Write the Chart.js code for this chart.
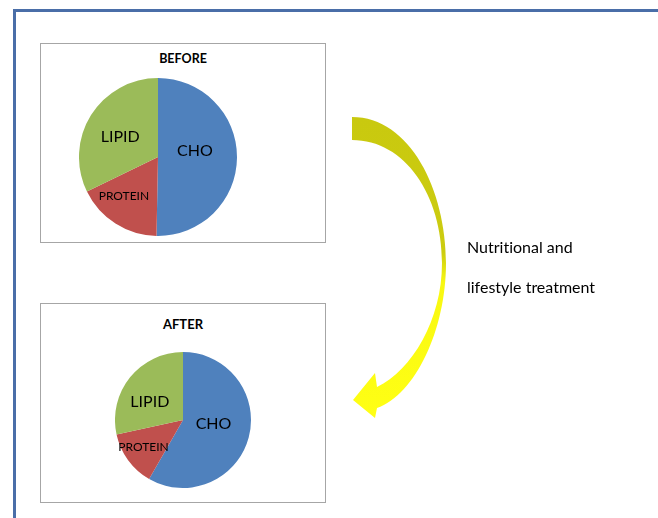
<!DOCTYPE html>
<html>
<head>
<meta charset="utf-8">
<script src="https://cdn.jsdelivr.net/npm/chart.js@4.4.1/dist/chart.umd.min.js"></script>
<style>
  html, body { margin: 0; padding: 0; background: #fff; }
  body { width: 658px; height: 518px; position: relative; overflow: hidden; font-family: Lato, "Open Sans", sans-serif; font-variant-ligatures: none; }
  .frame { position: absolute; left: 13px; top: 9px; width: 700px; height: 560px; border-left: 3px solid #4a6ea8; border-top: 3px solid #4a6ea8; }
  .box { position: absolute; left: 40px; width: 284px; height: 198px; border: 1px solid #a6a6a6; }
  .title { position: absolute; left: 0; width: 100%; text-align: center; font-weight: bold; font-size: 12.5px; color: #000; }
  .pie { position: absolute; }
  #arrow { position: absolute; left: 0; top: 0; }
  .note { position: absolute; left: 467px; font-size: 16px; color: #000; white-space: nowrap; }
</style>
</head>
<body>
<div class="frame"></div>
<div class="box" style="top:43px"><div class="title" style="top:7px">BEFORE</div></div>
<div class="box" style="top:303px"><div class="title" style="top:12px;font-size:13px">AFTER</div></div>
<canvas id="before" class="pie" width="158" height="158" style="left:79px;top:78px"></canvas>
<canvas id="after" class="pie" width="136" height="136" style="left:115px;top:352px"></canvas>
<canvas id="arrow" width="658" height="518"></canvas>
<div class="note" style="top:237px">Nutritional and</div>
<div class="note" style="top:277px">lifestyle treatment</div>
<script>
const categories = ['CHO', 'PROTEIN', 'LIPID'];
const beforeValues = [50.3, 17.5, 32.2];
const afterValues = [58.3, 13.3, 28.4];
const sliceColors = ['#4f81bd', '#c0504d', '#9bbb59'];

// label inside each slice, at a fraction of the radius along the mid angle, nudged a little
const sliceLabels = {
  id: 'sliceLabels',
  afterDatasetsDraw(chart, args, opts) {
    const ctx = chart.ctx;
    const arcs = chart.getDatasetMeta(0).data;
    ctx.save();
    ctx.fillStyle = '#000';
    ctx.textAlign = 'center';
    ctx.textBaseline = 'middle';
    arcs.forEach((arc, i) => {
      const mid = (arc.startAngle + arc.endAngle) / 2;
      const r = arc.outerRadius * opts.radius[i];
      ctx.font = opts.size[i] + 'px Lato, "Open Sans", sans-serif';
      ctx.fillText(chart.data.labels[i],
        arc.x + Math.cos(mid) * r + opts.nudge[i][0],
        arc.y + Math.sin(mid) * r + opts.nudge[i][1]);
    });
    ctx.restore();
  }
};

function makePie(id, values, radius, nudge) {
  new Chart(document.getElementById(id), {
    type: 'pie',
    data: {
      labels: categories,
      datasets: [{ data: values, backgroundColor: sliceColors, borderWidth: 0 }]
    },
    options: {
      responsive: false,
      animation: false,
      layout: { padding: 0 },
      plugins: {
        legend: { display: false },
        tooltip: { enabled: false },
        sliceLabels: { radius: radius, size: [16, 12, 16], nudge: nudge }
      }
    },
    plugins: [sliceLabels]
  });
}

makePie('before', beforeValues, [0.48, 0.66, 0.55], [[-1, -7], [-6, -5], [-1, 3]]);
makePie('after', afterValues, [0.48, 0.72, 0.57], [[-1, -5], [0, -2], [-3, 6]]);

// curved arrow between the two charts
const actx = document.getElementById('arrow').getContext('2d');
const grad = actx.createLinearGradient(0, 117, 0, 418);
grad.addColorStop(0, '#c9c90f');
grad.addColorStop(0.45, '#cccc10');
grad.addColorStop(0.55, '#f8f812');
grad.addColorStop(1, '#ffff14');
actx.fillStyle = grad;
actx.beginPath();
actx.moveTo(352, 117);
actx.bezierCurveTo(410, 117, 446, 190, 446, 263);
actx.bezierCurveTo(446, 330, 415, 395, 377, 408);
actx.lineTo(375, 418);
actx.lineTo(353, 400);
actx.lineTo(375, 373);
actx.lineTo(377, 387);
actx.bezierCurveTo(412, 370, 442, 320, 442, 263);
actx.bezierCurveTo(442, 195, 405, 140, 352, 140);
actx.closePath();
actx.fill();
</script>
</body>
</html>
